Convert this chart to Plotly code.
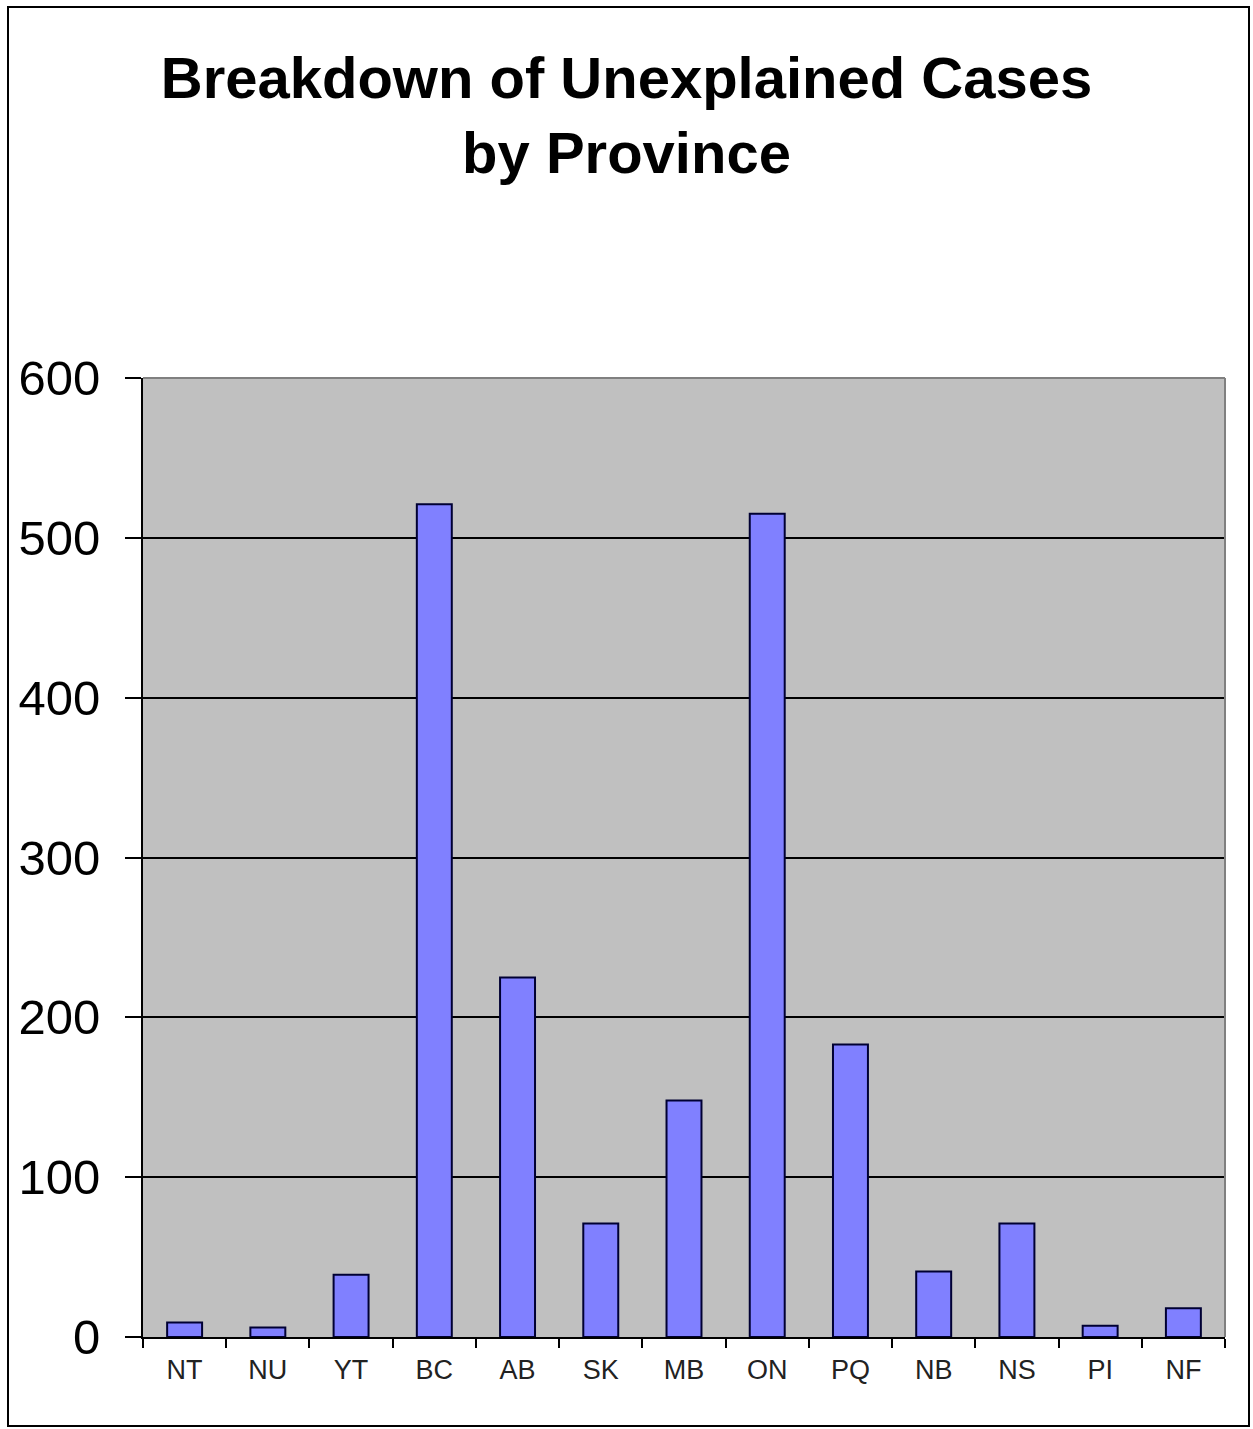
import plotly.graph_objects as go

# Unexplained cases per province / territory
provinces = ["NT", "NU", "YT", "BC", "AB", "SK", "MB", "ON", "PQ", "NB", "NS", "PI", "NF"]
cases = [9, 6, 39, 521, 225, 71, 148, 515, 183, 41, 71, 7, 18]
y_ticks = [0, 100, 200, 300, 400, 500, 600]

W, H = 1253, 1429
L, R, T, B = 143, 28, 378, 92
pw, ph = W - L - R, H - T - B

fig = go.Figure(
    go.Bar(
        x=provinces,
        y=cases,
        marker=dict(color="#8080ff", line=dict(color="#000033", width=2)),
        width=0.42,
    )
)

fig.update_layout(
    width=W,
    height=H,
    margin=dict(l=L, r=R, t=T, b=B),
    paper_bgcolor="white",
    plot_bgcolor="#c0c0c0",
    showlegend=False,
    font=dict(family="Liberation Sans, Arial, sans-serif", color="black"),
    title=dict(
        text="<b>Breakdown of Unexplained Cases<br>by Province</b>",
        x=0.5,
        xanchor="center",
        y=1 - 98 / H,
        yanchor="top",
        font=dict(size=58, color="black"),
    ),
)

fig.update_xaxes(
    type="category",
    showgrid=False,
    showline=True,
    linecolor="black",
    linewidth=2,
    ticks="outside",
    tickson="boundaries",
    ticklen=9,
    tickwidth=2,
    tickcolor="black",
    tickfont=dict(size=27, color="#222222"),
    ticklabelstandoff=8,
    range=[-0.5, len(provinces) - 0.5],
)

fig.update_yaxes(
    range=[0, 600],
    tickvals=y_ticks,
    showgrid=True,
    gridcolor="black",
    gridwidth=1.5,
    showline=True,
    linecolor="black",
    linewidth=2,
    ticks="outside",
    ticklen=16,
    tickwidth=2,
    tickcolor="black",
    tickfont=dict(size=49, color="black"),
    ticklabelstandoff=15,
    zeroline=False,
)

# grey top and right edges of the plotting area
fig.add_shape(type="line", xref="paper", yref="paper", x0=0, x1=1, y0=1, y1=1,
              line=dict(color="#808080", width=2))
fig.add_shape(type="line", xref="paper", yref="paper", x0=1, x1=1, y0=0, y1=1,
              line=dict(color="#808080", width=2))

# outer frame around the whole chart
fig.add_shape(
    type="rect",
    xref="paper",
    yref="paper",
    x0=(8 - L) / pw,
    x1=(1249 - L) / pw,
    y0=-(1426 - (T + ph)) / ph,
    y1=1 + (T - 7) / ph,
    line=dict(color="black", width=2),
    layer="below",
)

fig.write_html("out.html")
